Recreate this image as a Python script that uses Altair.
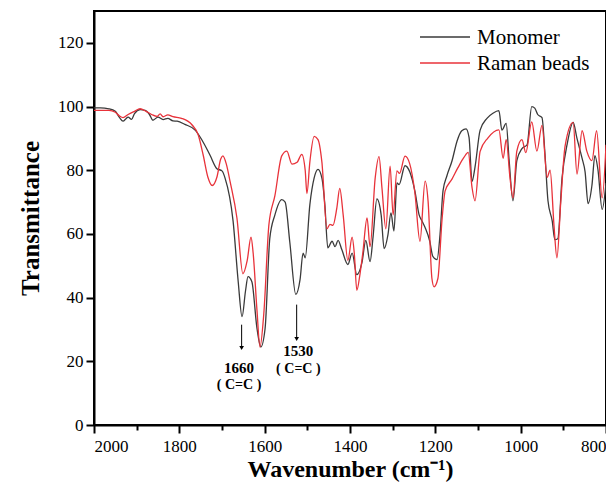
import altair as alt
import pandas as pd

# Monomer spectrum (wavenumber, transmittance)
mono_wn = [2000, 1985, 1965, 1950, 1940, 1932, 1925, 1920, 1912, 1905, 1892, 1880, 1870, 1862, 1850,
           1838, 1827, 1815, 1805, 1787, 1763, 1747, 1728, 1712, 1700, 1693, 1674, 1662, 1653, 1645,
           1639, 1630, 1618, 1609, 1599, 1588, 1576, 1560, 1552, 1541, 1527, 1517, 1510, 1505, 1494,
           1484, 1475, 1466, 1459, 1452, 1442, 1435, 1428, 1419, 1405, 1395, 1384, 1372, 1363, 1353,
           1346, 1337, 1327, 1320, 1311, 1304, 1297, 1290, 1285, 1271, 1260, 1248, 1238, 1231, 1224,
           1213, 1206, 1196, 1189, 1182, 1173, 1161, 1149, 1138, 1128, 1121, 1114, 1107, 1095, 1079,
           1065, 1051, 1044, 1034, 1027, 1018, 1009, 997, 985, 974, 967, 960, 950, 943, 936,
           926, 920, 913, 903, 891, 877, 868, 856, 849, 842, 833, 826, 819, 809, 800]
mono_t = [99.6, 99.6, 99.3, 98.5, 96.5, 95.4, 96.2, 96.7, 96.0, 97.8, 99.0, 98.8, 97.5, 95.7, 96.7,
          95.9, 96.3, 95.5, 95.4, 94.4, 92.6, 89.5, 84.7, 80.5, 79.8, 77.6, 64.0, 45.0, 34.0, 42.0,
          46.6, 45.0, 30.3, 24.5, 30.3, 58.6, 66.0, 70.8, 70.0, 57.3, 41.0, 45.7, 54.0, 52.5, 69.3,
          77.6, 80.3, 77.6, 69.3, 55.6, 57.7, 56.0, 58.0, 55.0, 50.4, 54.0, 47.2, 51.0, 58.0, 51.3,
          59.0, 71.0, 66.0, 55.4, 59.8, 66.6, 60.9, 76.0, 75.5, 81.4, 79.5, 73.5, 66.0, 64.0, 62.0,
          57.7, 53.0, 51.9, 59.8, 73.5, 78.2, 82.9, 89.2, 92.4, 93.0, 90.3, 76.5, 81.0, 92.6, 96.3,
          97.9, 98.7, 92.6, 94.7, 83.0, 70.4, 83.0, 86.8, 88.0, 100.0, 99.5, 97.5, 96.5, 85.0, 70.4,
          64.0, 58.2, 58.5, 77.6, 88.2, 95.0, 90.0, 83.7, 79.5, 69.5, 75.2, 84.6, 80.3, 67.7, 76.0]

# Raman beads spectrum
raman_wn = [2000, 1985, 1965, 1950, 1940, 1932, 1920, 1905, 1892, 1878, 1865, 1852, 1845, 1838, 1827,
            1815, 1795, 1770, 1756, 1744, 1733, 1723, 1712, 1703, 1698, 1690, 1681, 1665, 1651, 1641,
            1632, 1627, 1618, 1611, 1602, 1590, 1576, 1560, 1548, 1536, 1524, 1513, 1505, 1501, 1494,
            1484, 1475, 1466, 1454, 1447, 1440, 1431, 1424, 1416, 1405, 1395, 1390, 1384, 1377, 1370,
            1360, 1353, 1341, 1332, 1325, 1316, 1306, 1299, 1290, 1284, 1271, 1260, 1248, 1236, 1224,
            1217, 1208, 1203, 1194, 1184, 1177, 1161, 1147, 1133, 1123, 1114, 1107, 1095, 1077, 1051,
            1041, 1034, 1025, 1018, 1009, 997, 988, 974, 962, 950, 938, 931, 922, 915, 906,
            896, 877, 868, 856, 845, 833, 822, 809, 800]
raman_t = [98.8, 98.8, 98.8, 98.2, 97.0, 96.5, 97.5, 98.5, 99.3, 98.5, 97.5, 96.9, 97.7, 96.8, 97.4,
           96.8, 96.3, 94.2, 91.2, 84.7, 77.8, 75.2, 77.8, 83.5, 84.5, 82.0, 76.4, 65.0, 47.5, 51.6,
           59.0, 54.0, 36.0, 24.5, 35.0, 63.0, 72.0, 84.5, 86.0, 81.9, 82.5, 85.0, 80.0, 72.7, 82.7,
           90.6, 89.6, 82.7, 61.6, 63.0, 62.7, 68.0, 74.3, 66.0, 51.7, 59.0, 54.0, 42.3, 47.0, 54.0,
           65.0, 56.0, 77.5, 84.3, 74.3, 61.6, 81.3, 66.0, 79.8, 79.0, 84.4, 82.0, 73.0, 57.7, 76.6,
           70.3, 46.0, 43.4, 46.0, 65.0, 73.5, 77.2, 80.8, 84.0, 85.6, 74.6, 70.4, 85.9, 90.1, 92.7,
           83.7, 89.6, 77.6, 71.3, 86.0, 89.6, 85.5, 95.2, 86.0, 94.1, 77.8, 80.0, 62.9, 52.5, 70.0,
           87.5, 95.0, 78.8, 92.4, 86.0, 83.0, 92.4, 71.3, 88.0]

series_names = ["Monomer", "Raman beads"]
series_colors = ["#3a3a3a", "#e8323a"]

# Annotations
ann_wn = [1654, 1525]
ann_top = [31.5, 37.8]
ann_tip = [24.2, 27.0]
ann_num = ["1660", "1530"]
ann_num_t = [18.0, 23.2]
ann_grp = ["( C=C )", "( C=C )"]
ann_grp_t = [12.6, 17.6]
ann_text_wn = [1660, 1521]

SERIF = "Liberation Serif"

df = pd.concat([
    pd.DataFrame({"wn": mono_wn, "t": mono_t, "series": series_names[0], "order": range(len(mono_wn))}),
    pd.DataFrame({"wn": raman_wn, "t": raman_t, "series": series_names[1], "order": range(len(raman_wn))}),
])

x_enc = alt.X("wn:Q",
              scale=alt.Scale(domain=[800, 2000], reverse=True, nice=False, zero=False),
              axis=alt.Axis(values=list(range(800, 2001, 100)), format="d",
                            labelExpr="datum.value % 200 == 0 ? datum.label : ''",
                            tickSize={"condition": {"test": "datum.value % 200 == 0", "value": 8}, "value": 5},
                            title="Wavenumber (cm⁻¹)"))
y_enc = alt.Y("t:Q",
              scale=alt.Scale(domain=[0, 130], nice=False),
              axis=alt.Axis(values=list(range(0, 121, 10)),
                            labelExpr="datum.value % 20 == 0 ? datum.label : ''",
                            tickSize={"condition": {"test": "datum.value % 20 == 0", "value": 8}, "value": 5},
                            title="Transmittance"))

lines = alt.Chart(df).mark_line(strokeWidth=1.3, interpolate="monotone").encode(
    x=x_enc, y=y_enc,
    color=alt.Color("series:N", scale=alt.Scale(domain=series_names, range=series_colors), legend=None),
    order="order:Q",
    detail="series:N",
)

ann = pd.DataFrame({"wn": ann_wn, "top": ann_top, "tip": ann_tip, "num": ann_num, "num_t": ann_num_t,
                    "grp": ann_grp, "grp_t": ann_grp_t, "twn": ann_text_wn})

arrows = alt.Chart(ann).mark_rule(color="black", strokeWidth=1).encode(
    x="wn:Q", y="top:Q", y2="tip:Q")
heads = alt.Chart(ann).mark_point(shape="triangle-down", filled=True, color="black", size=22, opacity=1).encode(
    x="wn:Q", y=alt.Y("tip:Q"))
nums = alt.Chart(ann).mark_text(font=SERIF, fontSize=15, fontWeight="bold", color="black").encode(
    x="twn:Q", y="num_t:Q", text="num:N")
grps = alt.Chart(ann).mark_text(font=SERIF, fontSize=14, fontWeight="bold", color="black").encode(
    x="twn:Q", y="grp_t:Q", text="grp:N")

legend_layers = []
for i, (name, col) in enumerate(zip(series_names, series_colors)):
    d = pd.DataFrame({"s": [name]})
    legend_layers.append(alt.Chart(d).mark_rule(color=col, strokeWidth=1.3).encode(
        x=alt.value(326), x2=alt.value(376), y=alt.value(26 + 26 * i)))
    legend_layers.append(alt.Chart(d).mark_text(font=SERIF, fontSize=21, align="left", baseline="middle",
                                                color="black").encode(
        x=alt.value(383), y=alt.value(27 + 26 * i), text="s:N"))

chart = alt.layer(lines, arrows, heads, nums, grps, *legend_layers).properties(
    width=512, height=414,
    autosize=alt.AutoSizeParams(type="none"),
    padding={"left": 86, "top": 3, "right": 0, "bottom": 60},
).configure_view(
    stroke="black", strokeWidth=2
).configure_axis(
    grid=False, domainColor="black", domainWidth=2, tickColor="black", tickWidth=2,
    labelFont=SERIF, labelFontSize=17, labelColor="black", labelPadding=3,
    titleFont=SERIF, titleFontSize=24, titleFontWeight="bold", titleColor="black",
).configure_axisY(titlePadding=14, titleFontSize=25).configure_axisX(titlePadding=3, labelPadding=5)

chart.save("out.html", embed_options={"renderer": "svg", "actions": False})
